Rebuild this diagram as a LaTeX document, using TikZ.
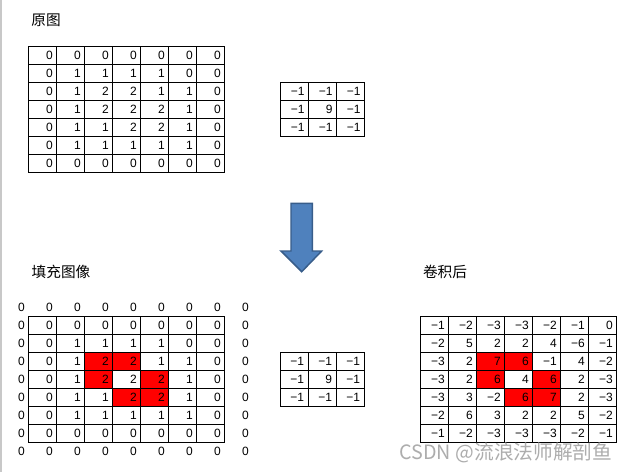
\documentclass[tikz,border=0pt]{standalone}
\usepackage{fontspec}
\setmainfont{Liberation Sans}
\newfontfamily\cjk{Noto Sans CJK SC}
\definecolor{arrowfill}{HTML}{4F81BD}
\definecolor{arrowline}{HTML}{385D8A}
\definecolor{wmark}{HTML}{ADADAD}
\definecolor{frameline}{HTML}{C8C8C8}
\tikzset{
  cell/.style={draw, line width=0.75pt, rectangle, inner xsep=3pt, inner ysep=0pt,
    text width=15pt, align=right, minimum height=13.5pt,
    font=\fontsize{9}{10}\selectfont},
  pad/.style={cell, draw=none},
  title/.style={font=\cjk\fontsize{11}{12}\selectfont, inner sep=0pt},
  wm/.style={font=\cjk\fontsize{14.8}{16}\selectfont, text=wmark, inner sep=0pt},
  blockarrow/.style={fill=arrowfill, draw=arrowline, line width=1.1pt, line join=miter},
}
\newcommand\drawgrid[4]{%
  \foreach \rowvals [count=\ri] in {#4} {
    \foreach \v [count=\ci] in \rowvals {
      \node[cell] (#1-\ri-\ci) at ({#2+28*\ci-14},{#3+18*\ri-9}) {\v};
    }
  }%
}
\newcommand\redcells[2]{%
  \foreach \ri/\ci in {3/3,3/4,4/3,4/5,5/4,5/5} {
    \fill[red] ({#1+28*(\ci-1)},{#2+18*(\ri-1)}) rectangle ++(28,18);
  }%
}
\begin{document}
\begin{tikzpicture}[x=0.75pt,y=-0.75pt]
\useasboundingbox (0,0) rectangle (627,472);
\fill[white] (0,0) rectangle (627,472);
\fill[frameline] (0,0) rectangle (2,472);

% titles
\node[title] (t1) at (46,20) {原图};
\node[title] (t2) at (61,272) {填充图像};
\node[title] (t3) at (445,272) {卷积后};

% original image
\drawgrid{A}{28.7}{46.7}{{0,0,0,0,0,0,0},{0,1,1,1,1,0,0},{0,1,2,2,1,1,0},{0,1,2,2,2,1,0},{0,1,1,2,2,1,0},{0,1,1,1,1,1,0},{0,0,0,0,0,0,0}}

% kernel top
\drawgrid{K}{280.5}{82.3}{{−1,−1,−1},{−1,9,−1},{−1,−1,−1}}

% arrow
\draw[blockarrow] (291,203.3) -- (312.3,203.3) -- (312.3,251) -- (321.7,251)
  -- (301.7,271.7) -- (281,251) -- (291,251) -- cycle;

% padded image
\redcells{28.7}{316.7}
\drawgrid{B}{28.7}{316.7}{{0,0,0,0,0,0,0},{0,1,1,1,1,0,0},{0,1,2,2,1,1,0},{0,1,2,2,2,1,0},{0,1,1,2,2,1,0},{0,1,1,1,1,1,0},{0,0,0,0,0,0,0}}
\foreach \k in {0,...,8} {
  \node[pad] (P-0-\k) at ({28.7+28*\k-14},{316.7-9}) {0};
  \node[pad] (P-8-\k) at ({28.7+28*\k-14},{316.7+18*8-9}) {0};
}
\foreach \k in {1,...,7} {
  \node[pad] (P-\k-0) at ({28.7-14},{316.7+18*\k-9}) {0};
  \node[pad] (P-\k-8) at ({28.7+28*8-14},{316.7+18*\k-9}) {0};
}

% kernel bottom
\drawgrid{L}{280}{352.3}{{−1,−1,−1},{−1,9,−1},{−1,−1,−1}}

% result
\redcells{420.7}{316}
\drawgrid{C}{420.7}{316}{{−1,−2,−3,−3,−2,−1,0},{−2,5,2,2,4,−6,−1},{−3,2,7,6,−1,4,−2},{−3,2,6,4,6,2,−3},{−3,3,−2,6,7,2,−3},{−2,6,3,2,2,5,−2},{−1,−2,−3,−3,−3,−2,−1}}

% watermark
\node[wm] (w) at (506,453) {CSDN @流浪法师解剖鱼};
\end{tikzpicture}
\end{document}
